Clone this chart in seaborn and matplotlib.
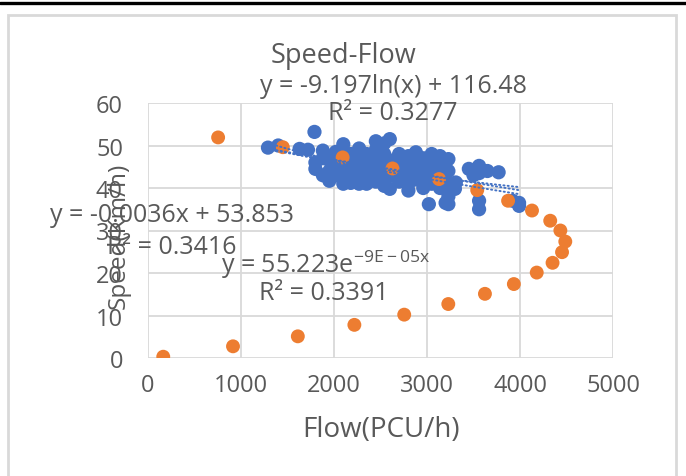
import numpy as np
import pandas as pd
import matplotlib
matplotlib.use("Agg")
import matplotlib.pyplot as plt
import seaborn as sns
from matplotlib.patches import Rectangle
from matplotlib.lines import Line2D

# observed points (blue)
obs_flow = [1290, 1400, 1630, 1720, 1790,
            1800, 1800, 1880, 1880, 1880, 1950, 1950, 1950,
            2020, 2020, 2020, 2100, 2100, 2100, 2100, 2100,
            2180, 2180, 2180, 2180, 2270, 2270, 2270, 2270, 2270,
            2350, 2350, 2350, 2350, 2350, 2450, 2450, 2450, 2450, 2450, 2450,
            2540, 2540, 2540, 2540, 2540, 2540, 2600, 2600, 2600, 2600,
            2700, 2700, 2700, 2700, 2800, 2800, 2800, 2800, 2800,
            2880, 2880, 2880, 2880, 2960, 2960, 2960, 2960,
            3050, 3050, 3050, 3050, 3020, 3140, 3140, 3140, 3140,
            3230, 3230, 3230, 3230, 3230, 3300, 3200, 3310,
            3450, 3500, 3560, 3560, 3560, 3560, 3650, 3770, 3920, 3990, 3990]
obs_speed = [49.5, 50.0, 49.2, 49.0, 53.2,
             46.0, 44.5, 48.8, 47.0, 43.0, 46.5, 44.0, 41.7,
             48.5, 45.5, 43.0, 50.3, 47.5, 45.0, 42.5, 41.0,
             48.0, 46.0, 44.0, 41.2, 49.3, 47.0, 45.0, 43.0, 41.0,
             48.0, 46.0, 44.0, 42.0, 41.0, 51.0, 49.0, 47.0, 45.0, 43.0, 41.5,
             50.5, 48.0, 46.0, 44.0, 42.0, 40.5, 51.5, 46.5, 43.0, 39.8,
             48.0, 45.5, 43.5, 41.5, 47.5, 45.0, 43.0, 41.0, 39.4,
             48.4, 46.0, 44.0, 42.0, 47.0, 44.5, 42.0, 40.0,
             48.0, 46.0, 43.5, 41.0, 36.2, 47.5, 45.0, 42.5, 40.0,
             46.8, 44.0, 41.0, 38.0, 36.2, 39.8, 36.5, 41.3,
             44.5, 43.0, 45.2, 43.5, 37.0, 35.0, 44.0, 43.7, 37.0, 35.8, 36.5]

# model curve points (orange)
model_flow = [164, 914, 1611, 2219, 2755, 3229, 3623, 3934, 4180, 4350, 4452,
              4487, 4434, 4325, 4129, 3872, 3540, 3129, 2629, 2093, 1450, 754]
model_speed = [0.3, 2.75, 5.1, 7.8, 10.2, 12.7, 15.1, 17.4, 20.1, 22.4, 24.9,
               27.4, 30.0, 32.3, 34.7, 37.0, 39.5, 42.1, 44.6, 47.2, 49.6, 51.9]

x_ticks = [0, 1000, 2000, 3000, 4000, 5000]
y_ticks = [0, 10, 20, 30, 40, 50, 60]

blue = "#4472C4"
orange = "#ED7D31"
grid_c = "#D9D9D9"
txt_c = "#595959"

sns.set_style("white")
plt.rcParams["font.family"] = ["Open Sans", "DejaVu Sans"]
plt.rcParams["mathtext.fontset"] = "custom"
plt.rcParams["mathtext.rm"] = "Open Sans"
plt.rcParams["mathtext.default"] = "regular"

W, H = 686, 477
fig = plt.figure(figsize=(W / 100, H / 100), dpi=100)
ax = fig.add_axes([148 / W, 1 - 359 / H, (613 - 148) / W, (359 - 104) / H])

obs = pd.DataFrame({"flow": obs_flow, "speed": obs_speed})
model = pd.DataFrame({"flow": model_flow, "speed": model_speed})

sns.scatterplot(data=obs, x="flow", y="speed", color=blue, s=105,
                edgecolor="none", ax=ax, zorder=3)
sns.scatterplot(data=model, x="flow", y="speed", color=orange, s=100,
                edgecolor="none", ax=ax, zorder=4)

# trendlines of the observed series
xs = np.linspace(min(obs_flow), max(obs_flow), 200)
trends = [-0.0036 * xs + 53.853,
          55.223 * np.exp(-9e-05 * xs),
          -9.197 * np.log(xs) + 116.48]
for yt in trends:
    ax.plot(xs, yt, color=blue, lw=1.4, ls=(0, (0.6, 1.6)),
            dash_capstyle="round", zorder=5)

ax.set_xlim(0, 5000)
ax.set_ylim(0, 60)
ax.set_xticks(x_ticks)
ax.set_yticks(y_ticks)
ax.grid(True, color=grid_c, lw=1.3)
ax.set_axisbelow(True)
for s in ax.spines.values():
    s.set_visible(False)
ax.tick_params(length=0, labelsize=17, labelcolor=txt_c)
ax.tick_params(axis="x", pad=11)
ax.tick_params(axis="y", pad=18)
ax.set_xlabel("")
ax.set_ylabel("")

def ftext(px, py, s, size=18, **kw):
    fig.text(px / W, 1 - py / H, s, fontsize=size, color=txt_c,
             ha="center", va="center", **kw)

ftext(343, 56, "Speed-Flow", size=19.5)
ftext(381, 430, "Flow(PCU/h)", size=20)
ftext(119, 236, "Speed(Km/h)", size=17.5, rotation=90)

ftext(393, 87, "y = -9.197ln(x) + 116.48")
ftext(393, 113, "R² = 0.3277")
ftext(172, 216, "y = -0.0036x + 53.853")
ftext(172, 247, "R² = 0.3416")
ftext(326, 265, r"y = 55.223e$^{-9E-05x}$")
ftext(324, 293, "R² = 0.3391")

# outer chart frame and top rule
fig.patches.append(Rectangle((8 / W, -0.05), (676 - 8) / W, 1.05 - 16 / H,
                             transform=fig.transFigure, fill=False,
                             edgecolor=grid_c, lw=2))
fig.lines.append(Line2D([0, 1], [1 - 3.5 / H, 1 - 3.5 / H],
                        transform=fig.transFigure, color="black", lw=2.4))

fig.savefig("out.png", dpi=100)
